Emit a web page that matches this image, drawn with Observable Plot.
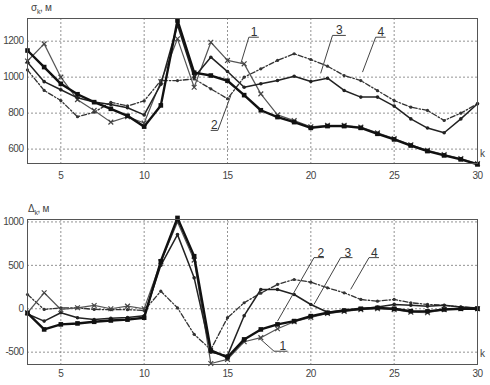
<!DOCTYPE html>
<html><head><meta charset="utf-8">
<script src="https://cdn.jsdelivr.net/npm/d3@7"></script>
<script src="https://cdn.jsdelivr.net/npm/@observablehq/plot@0.6"></script>
<style>
body{margin:0;background:#fff;}
#wrap{position:relative;width:490px;height:385px;font-family:"Liberation Sans",Arial,sans-serif;color:#444;}
#wrap svg{display:block;}
#wrap svg text{letter-spacing:-0.5px;}
.lab{position:absolute;font-size:10px;line-height:1;white-space:nowrap;letter-spacing:-0.3px;}
.lab sub{font-size:7px;}
</style></head><body><div id="wrap"></div>
<script>
const K = [3,4,5,6,7,8,9,10,11,12,13,14,15,16,17,18,19,20,21,22,23,24,25,26,27,28,29,30];
const xTicks = [5,10,15,20,25,30];

// Top panel (sigma_k, m)
const topA = [1148,1056,963,905,861,824,785,725,843,1315,1025,1009,980,900,816,778,750,718,728,728,718,685,654,620,589,565,543,515];
const topB = [1090,1185,1000,875,815,750,780,745,975,1213,944,1194,1093,1074,907,790,758,724,732,732,722,690,658,624,593,569,547,519];
const topC = [1040,926,870,780,805,860,840,868,981,981,990,935,880,1000,1046,1093,1130,1098,1061,1009,981,925,870,833,815,759,800,852];
const topD = [1083,975,930,885,862,848,830,790,960,1290,1000,1111,1031,944,963,981,1005,976,994,926,889,889,839,768,717,691,768,852];
const topYTicks = [600,800,1000,1200];
const topLabText = ["1","2","3","4"];
const topLabK = [16.58,14.2,21.7,24.19];
const topLabV = [1222,704,1232,1222];
const topUlK1 = [16.28,13.99,21.30,23.89];
const topUlK2 = [16.88,14.42,22.10,24.49];
const topLeadK = [16.28,14.42,21.30,23.89];
const topTgtK = [15.8,15.2,20.59,23.10];
const topTgtV = [1076,898,1021,1028];

// Bottom panel (Delta_k, m)
const botA = [-50,-238,-180,-169,-150,-135,-125,-103,547,1046,605,-480,-560,-353,-238,-180,-142,-85,-46,-20,0,10,0,-28,-30,-8,0,0];
const botB = [-46,184,-8,11,38,0,30,0,540,1000,560,-630,-583,-380,-333,-230,-150,-100,-55,-30,-10,0,-10,-40,-46,-10,0,0];
const botC = [164,-8,11,11,-8,-10,-10,-20,202,10,-295,-470,-103,69,180,280,337,306,241,184,107,87,107,69,50,40,20,10];
const botD = [-60,-142,-46,-103,-123,-110,-100,-80,500,854,356,-500,-540,-80,222,222,164,49,-40,-20,0,20,50,40,30,40,20,10];
const botYTicks = [-500,0,500,1000];
const botLabText = ["1","2","3","4"];
const botLabK = [18.3,20.59,22.2,23.79];
const botLabV = [-489,589,589,589];
const botUlK1 = [17.79,20.19,21.79,23.49];
const botUlK2 = [18.60,20.79,22.50,24.09];
const botLeadK = [17.79,20.19,21.79,23.49];
const botTgtK = [16.89,18.0,20.19,22.39];
const botTgtV = [-335,-143,50,223];

const FONT = '"Liberation Sans",Arial,sans-serif';

function series(vals){ return K.map((k,i)=>({k, v: vals[i]})); }

function panel(o){
  const A = series(o.A), B = series(o.B), C = series(o.C), D = series(o.D);
  const labs = o.text.map((t,i)=>({t, k:o.labK[i], v:o.labV[i], u1:o.ul1[i], u2:o.ul2[i], lk:o.leadK[i], tk:o.tgtK[i], tv:o.tgtV[i]}));
  return Plot.plot({
    width: 490, height: o.height,
    marginLeft: 27, marginRight: 13, marginTop: o.mt, marginBottom: o.mb,
    style: {fontFamily: FONT, fontSize: "10px", color: "#444", background: "#fff"},
    x: {domain: [3,30], ticks: xTicks, tickSize: 0, tickPadding: o.xpad, tickFormat: d => String(d), label: null},
    y: {domain: o.domain, ticks: o.yTicks, tickSize: 0, tickPadding: 4, tickFormat: d => String(d), label: null},
    marks: [
      Plot.ruleX(xTicks, {stroke: "#777", strokeDasharray: "2,2", strokeWidth: 0.8}),
      Plot.ruleY(o.yTicks, {stroke: "#777", strokeDasharray: "2,2", strokeWidth: 0.8}),
      Plot.line(C, {x: "k", y: "v", stroke: "#333", strokeWidth: 1.3, strokeDasharray: "5,2,1.5,2"}),
      Plot.dot(C, {x: "k", y: "v", r: 1.6, fill: "#333"}),
      Plot.line(B, {x: "k", y: "v", stroke: "#555", strokeWidth: 1.2}),
      Plot.dot(B, {x: "k", y: "v", symbol: "times", r: 2.3, stroke: "#444", strokeWidth: 1.2}),
      Plot.line(D, {x: "k", y: "v", stroke: "#222", strokeWidth: 1.5}),
      Plot.dot(D, {x: "k", y: "v", r: 1.8, fill: "#222"}),
      Plot.line(A, {x: "k", y: "v", stroke: "#111", strokeWidth: 2.4}),
      Plot.dot(A, {x: "k", y: "v", symbol: "square", r: 2.6, fill: "#111"}),
      Plot.link(labs, {x1: "u1", x2: "u2", y1: "v", y2: "v", stroke: "#444", strokeWidth: 1}),
      Plot.link(labs, {x1: "lk", y1: "v", x2: "tk", y2: "tv", stroke: "#444", strokeWidth: 1}),
      Plot.text(labs, {x: "k", y: "v", text: "t", lineAnchor: "bottom", dy: -1, fontSize: 12, fill: "#333"}),
      Plot.frame({stroke: "#555", strokeWidth: 1})
    ]
  });
}

const wrap = document.getElementById("wrap");
wrap.appendChild(panel({A: topA, B: topB, C: topC, D: topD, domain: [520,1326], yTicks: topYTicks,
  height: 190, mt: 18, mb: 27, xpad: 8,
  text: topLabText, labK: topLabK, labV: topLabV, ul1: topUlK1, ul2: topUlK2, leadK: topLeadK, tgtK: topTgtK, tgtV: topTgtV}));
wrap.appendChild(panel({A: botA, B: botB, C: botC, D: botD, domain: [-642,1028], yTicks: botYTicks,
  height: 195, mt: 29, mb: 21, xpad: 5,
  text: botLabText, labK: botLabK, labV: botLabV, ul1: botUlK1, ul2: botUlK2, leadK: botLeadK, tgtK: botTgtK, tgtV: botTgtV}));

function addLab(html, left, top){
  const d = document.createElement("div");
  d.className = "lab"; d.innerHTML = html;
  d.style.left = left + "px"; d.style.top = top + "px";
  wrap.appendChild(d);
}
addLab("σ<sub>k</sub>, м", 31, 3);
addLab("Δ<sub>k</sub>, м", 28, 204);
addLab("k", 480, 149);
addLab("k", 480, 349);
</script></body></html>
